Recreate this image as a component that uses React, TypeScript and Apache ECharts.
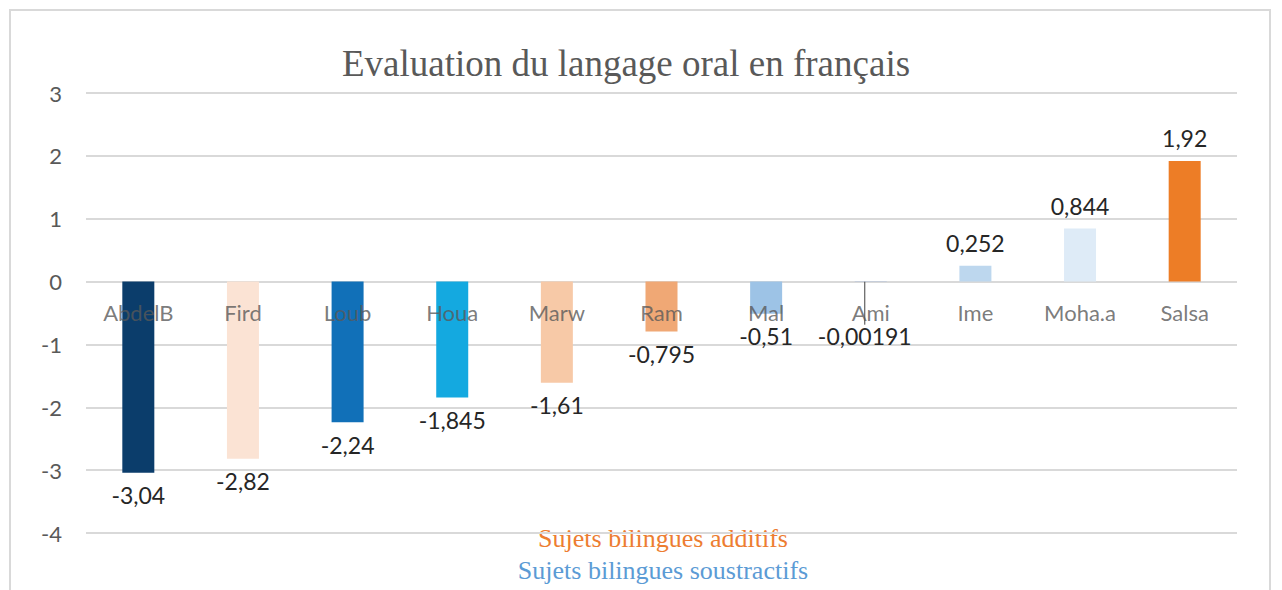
import React, { useEffect, useRef } from "react";
import * as echarts from "echarts";

const categories = ["AbdelB", "Fird", "Loub", "Houa", "Marw", "Ram", "Mal", "Ami", "Ime", "Moha.a", "Salsa"];
const values = [-3.04, -2.82, -2.24, -1.845, -1.61, -0.795, -0.51, -0.00191, 0.252, 0.844, 1.92];
const barColors = ["#0b3d6b", "#fbe3d4", "#1170b8", "#14a9e0", "#f7c9a7", "#f0a875", "#9dc3e6", "#8faadc", "#bdd7ee", "#deebf7", "#ed7d26"];
const yTicks = { min: -4, max: 3, interval: 1 };
const title = "Evaluation du langage oral en français";
const notes = ["Sujets bilingues additifs", "Sujets bilingues soustractifs"];

const fmt = (v: number) => String(v).replace(".", ",");

export default function App() {
  const ref = useRef<HTMLDivElement>(null);
  useEffect(() => {
    if (!ref.current) return;
    const chart = echarts.init(ref.current, null, { renderer: "svg" });
    chart.setOption({
      animation: false,
      backgroundColor: "#ffffff",
      title: {
        text: title,
        left: 621,
        textAlign: "center",
        top: 40,
        textStyle: { fontFamily: "Liberation Serif", fontSize: 37, fontWeight: "normal", color: "#595959" },
      },
      grid: { left: 86, right: 45, top: 93, bottom: 57, containLabel: false },
      xAxis: {
        type: "category",
        data: categories,
        axisLine: { show: false },
        axisTick: { show: false },
        axisLabel: { show: false },
      },
      yAxis: {
        type: "value",
        min: yTicks.min,
        max: yTicks.max,
        interval: yTicks.interval,
        axisLine: { show: false },
        axisTick: { show: false },
        splitLine: { lineStyle: { color: "#d9d9d9", width: 2 } },
        axisLabel: { color: "#595959", fontFamily: "Lato", fontSize: 22, margin: 24 },
      },
      series: [
        {
          type: "bar",
          barWidth: 32,
          z: 1,
          data: values.map((v, i) => ({
            value: v,
            itemStyle: { color: barColors[i] },
            label: { position: v < 0 ? "bottom" : "top" },
            labelLine: i === 7 ? { show: true, lineStyle: { color: "#404040", width: 1 } } : { show: false },
          })),
          label: {
            show: true,
            distance: 11,
            color: "#262626",
            fontFamily: "Lato",
            fontSize: 23,
            formatter: (p: any) => fmt(p.value),
          },
          labelLayout: (p: any) => (p.dataIndex === 7 ? { dx: -6, dy: 32 } : {}),
        },
        {
          type: "scatter",
          symbolSize: 0,
          z: 5,
          silent: true,
          data: categories.map(() => 0),
          label: {
            show: true,
            position: "bottom",
            distance: 20,
            color: "#595959",
            fontFamily: "Lato",
            fontSize: 22,
            formatter: (p: any) => categories[p.dataIndex],
          },
        },
      ],
      graphic: [
        {
          type: "rect",
          shape: { x: 10, y: 10, width: 1260, height: 600 },
          style: { fill: "none", stroke: "#d9d9d9", lineWidth: 2 },
          silent: true,
        },
        {
          type: "text",
          x: 663,
          y: 538,
          style: { text: notes[0], fill: "#ed7d31", font: "26px 'Liberation Serif'", textAlign: "center", textVerticalAlign: "middle" },
        },
        {
          type: "text",
          x: 663,
          y: 570,
          style: { text: notes[1], fill: "#5b9bd5", font: "26px 'Liberation Serif'", textAlign: "center", textVerticalAlign: "middle" },
        },
      ],
    });
    return () => chart.dispose();
  }, []);
  return <div ref={ref} style={{ position: "fixed", left: 0, top: 0, width: 1282, height: 590 }} />;
}
